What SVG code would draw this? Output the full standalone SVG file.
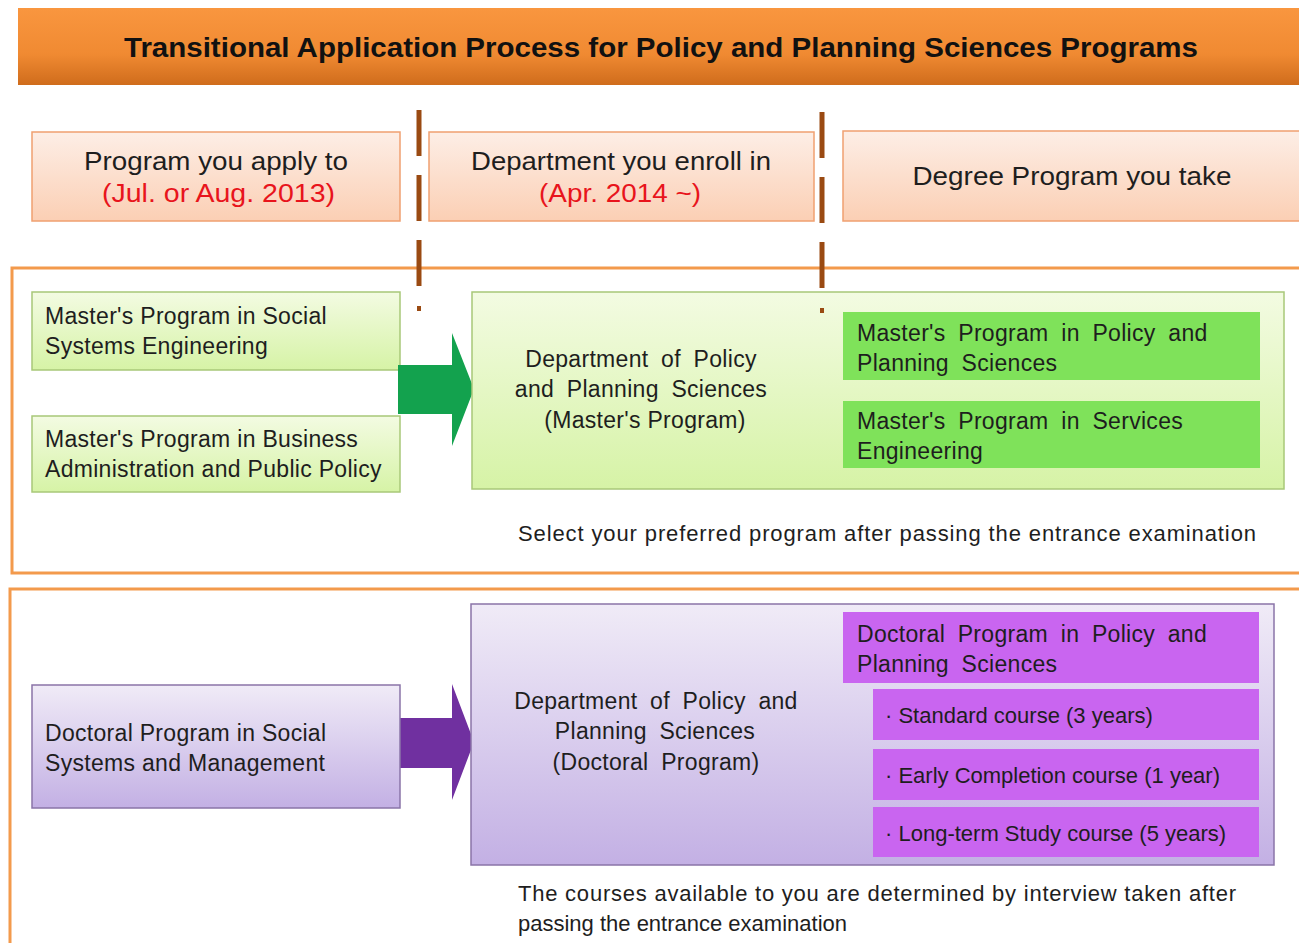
<svg xmlns="http://www.w3.org/2000/svg" width="1299" height="943" viewBox="0 0 1299 943">
<defs>
<linearGradient id="gTitle" x1="0" y1="0" x2="0" y2="1"><stop offset="0" stop-color="#f9963f"/><stop offset="0.6" stop-color="#f08a32"/><stop offset="1" stop-color="#cf6c1c"/></linearGradient>
<linearGradient id="gHead" x1="0" y1="0" x2="0" y2="1"><stop offset="0" stop-color="#fdeee6"/><stop offset="1" stop-color="#fbcfb4"/></linearGradient>
<linearGradient id="gGreen" x1="0" y1="0" x2="0" y2="1"><stop offset="0" stop-color="#f3fbe2"/><stop offset="1" stop-color="#d6f3a6"/></linearGradient>
<linearGradient id="gPurple" x1="0" y1="0" x2="0" y2="1"><stop offset="0" stop-color="#f0ebf7"/><stop offset="1" stop-color="#c3b0e4"/></linearGradient>
</defs>
<style>
text{font-family:"Liberation Sans",Arial,sans-serif;fill:#1e1e1e}
.t{font-size:23px;letter-spacing:0.3px}
.w{word-spacing:6px}
.h{font-size:26px}
.b{font-size:22px}
.red{fill:#e8141c}
.head{fill:url(#gHead);stroke:#f0a070;stroke-width:1.5}
.gbox{fill:url(#gGreen);stroke:#a8c878;stroke-width:1.5}
.pbox{fill:url(#gPurple);stroke:#8a74a8;stroke-width:1.5}
.gsel{fill:#7fe25a}
.psel{fill:#c965f0}
.sec{fill:none;stroke:#f39a4c;stroke-width:3}
.dash{stroke:#9a4a12;stroke-width:5;stroke-dasharray:46 19;fill:none}
</style>
<rect width="1299" height="943" fill="#ffffff"/>
<g id="title">
<rect x="18" y="8" width="1281" height="77" fill="url(#gTitle)"/>
<text x="124" y="57" font-size="28" font-weight="bold" textLength="1074" lengthAdjust="spacingAndGlyphs" style="fill:#111">Transitional Application Process for Policy and Planning Sciences Programs</text>
</g>
<g id="section-master"><rect class="sec" x="12" y="268" width="1290" height="305"/></g>
<g id="section-doctoral"><rect class="sec" x="10" y="589" width="1292" height="360"/></g>
<g id="head-apply">
<rect class="head" x="32" y="132" width="368" height="89"/>
<text class="h" x="216" y="170" text-anchor="middle" textLength="264" lengthAdjust="spacingAndGlyphs">Program you apply to</text>
<text class="h red" x="102" y="202" textLength="233" lengthAdjust="spacingAndGlyphs">(Jul. or Aug. 2013)</text>
</g>
<g id="head-enroll">
<rect class="head" x="429" y="132" width="385" height="89"/>
<text class="h" x="621" y="170" text-anchor="middle" textLength="300" lengthAdjust="spacingAndGlyphs">Department you enroll in</text>
<text class="h red" x="539" y="202" textLength="162" lengthAdjust="spacingAndGlyphs">(Apr. 2014 ~)</text>
</g>
<g id="head-degree">
<rect class="head" x="843" y="131" width="460" height="90"/>
<text class="h" x="1072" y="185" text-anchor="middle" textLength="319" lengthAdjust="spacingAndGlyphs">Degree Program you take</text>
</g>
<g id="m-sse">
<rect class="gbox" x="32" y="292" width="368" height="78"/>
<text class="t" x="45" y="324">Master's Program in Social</text>
<text class="t" x="45" y="354">Systems Engineering</text>
</g>
<g id="m-bapp">
<rect class="gbox" x="32" y="416" width="368" height="76"/>
<text class="t" x="45" y="447">Master's Program in Business</text>
<text class="t" x="45" y="477">Administration and Public Policy</text>
</g>
<g id="connectors">
<polygon points="398,365 452,365 452,333 474,389 452,446 452,414 398,414" fill="#13a24e"/>
<polygon points="400,718 452,718 452,684 474,742 452,800 452,768 400,768" fill="#7030a0"/>
</g>
<g id="m-dept">
<rect class="gbox" x="472" y="292" width="812" height="197"/>
<text class="t w" x="641" y="367" text-anchor="middle">Department  of Policy</text>
<text class="t w" x="641" y="397" text-anchor="middle">and Planning  Sciences</text>
<text class="t" x="645" y="428" text-anchor="middle">(Master's Program)</text>
<rect class="gsel" x="843" y="312" width="417" height="68"/>
<text class="t w" x="857" y="341">Master's Program in Policy and</text>
<text class="t w" x="857" y="371">Planning  Sciences</text>
<rect class="gsel" x="843" y="401" width="417" height="67"/>
<text class="t w" x="857" y="429">Master's Program in Services</text>
<text class="t" x="857" y="459">Engineering</text>
</g>
<g id="m-caption">
<text class="b" x="518" y="541" textLength="738" lengthAdjust="spacing">Select your preferred program after passing the entrance  examination</text>
</g>
<g id="d-ssm">
<rect class="pbox" x="32" y="685" width="368" height="123"/>
<text class="t" x="45" y="741">Doctoral Program in Social</text>
<text class="t" x="45" y="771">Systems and Management</text>
</g>
<g id="d-dept">
<rect class="pbox" x="471" y="604" width="803" height="261"/>
<text class="t w" x="656" y="709" text-anchor="middle">Department  of Policy and</text>
<text class="t w" x="655" y="739" text-anchor="middle">Planning  Sciences</text>
<text class="t w" x="656" y="770" text-anchor="middle">(Doctoral  Program)</text>
<rect class="psel" x="843" y="612" width="416" height="71"/>
<text class="t w" x="857" y="642">Doctoral Program in Policy and</text>
<text class="t w" x="857" y="672">Planning  Sciences</text>
<rect class="psel" x="873" y="689" width="386" height="51"/>
<text class="b" x="885" y="723">· Standard course  (3 years)</text>
<rect class="psel" x="873" y="749" width="386" height="51"/>
<text class="b" x="885" y="783">· Early Completion course (1 year)</text>
<rect class="psel" x="873" y="807" width="386" height="50"/>
<text class="b" x="885" y="841">· Long-term Study course (5 years)</text>
</g>
<g id="d-caption">
<text class="b" x="518" y="901" textLength="718" lengthAdjust="spacing">The courses available to you are determined by interview taken after</text>
<text class="b" x="518" y="931">passing the entrance examination</text>
</g>
<g id="dividers">
<line class="dash" x1="419" y1="110" x2="419" y2="291"/>
<rect x="417" y="306" width="4" height="5" fill="#9a4a12"/>
<line class="dash" x1="822" y1="112" x2="822" y2="291"/>
<rect x="820" y="308" width="4" height="5" fill="#9a4a12"/>
</g>
</svg>
